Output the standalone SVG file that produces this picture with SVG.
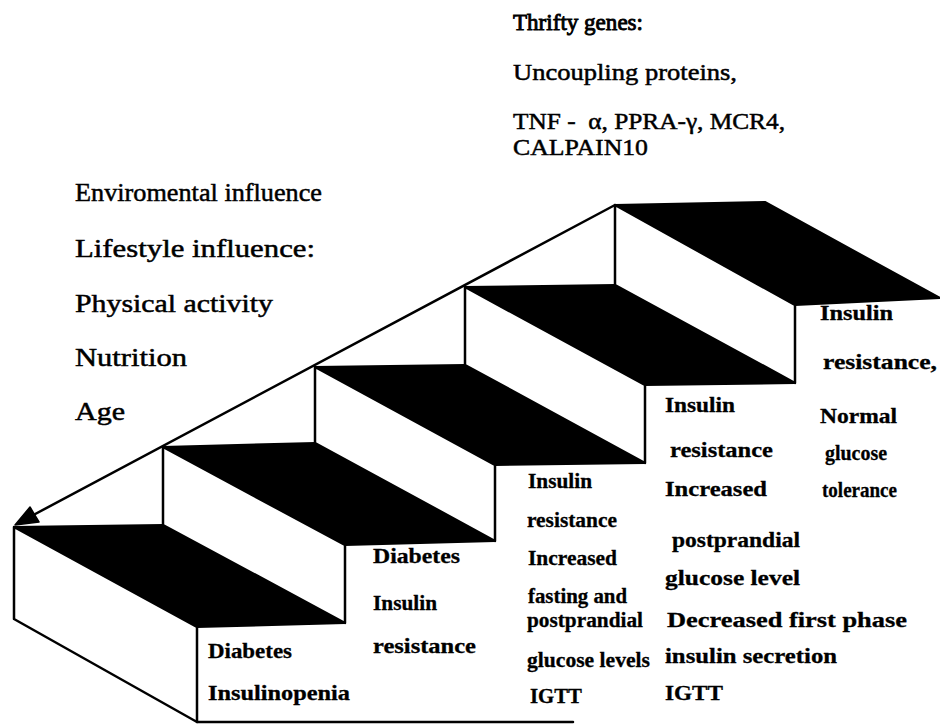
<svg xmlns="http://www.w3.org/2000/svg" width="940" height="726" viewBox="0 0 940 726">
<defs>
<style>
.bg{fill:#fff}
.tread{fill:#000;stroke:#000;stroke-width:2;stroke-linejoin:round}
.riser{fill:#fff;stroke:#000;stroke-width:2.5;stroke-linejoin:round}
.edge{fill:none;stroke:#000;stroke-width:2.5;stroke-linecap:round}
.side{font-family:"Liberation Serif","Times New Roman",serif;font-size:26px;fill:#000;stroke:#000;stroke-width:0.5}
.gene{font-family:"Liberation Serif","Times New Roman",serif;font-size:24px;fill:#000;stroke:#000;stroke-width:0.5}
.lab{font-family:"Liberation Serif","Times New Roman",serif;font-size:21px;font-weight:bold;fill:#000;stroke:#000;stroke-width:0.3}
.lab3{font-family:"Liberation Serif","Times New Roman",serif;font-size:20px;font-weight:bold;fill:#000;stroke:#000;stroke-width:0.3}
</style>
</defs>
<rect class="bg" x="0" y="0" width="940" height="726"/>

<g id="factors">
<text class="side" x="75" y="201" textLength="247" lengthAdjust="spacingAndGlyphs">Enviromental influence</text>
<text class="side" x="75" y="257" textLength="240" lengthAdjust="spacingAndGlyphs">Lifestyle influence:</text>
<text class="side" x="75" y="312" textLength="198" lengthAdjust="spacingAndGlyphs">Physical activity</text>
<text class="side" x="75" y="366" textLength="112" lengthAdjust="spacingAndGlyphs">Nutrition</text>
<text class="side" x="75" y="420" textLength="50" lengthAdjust="spacingAndGlyphs">Age</text>
</g>

<g id="genes">
<text class="gene" x="513" y="30" style="stroke-width:0.9" textLength="130" lengthAdjust="spacingAndGlyphs">Thrifty genes:</text>
<text class="gene" x="513" y="80" textLength="224" lengthAdjust="spacingAndGlyphs">Uncoupling proteins,</text>
<text class="gene" x="513" y="129" textLength="272" lengthAdjust="spacingAndGlyphs">TNF - &#160;α, PPRA-γ, MCR4,</text>
<text class="gene" x="513" y="155" textLength="135" lengthAdjust="spacingAndGlyphs">CALPAIN10</text>
</g>

<g id="step1">
<polygon class="tread" points="14,527 163,525 345,623 197,627"/>
<polygon class="riser" points="14,527 197,627 197,722 14,619"/>
<text class="lab" x="208" y="658" textLength="84" lengthAdjust="spacingAndGlyphs">Diabetes</text>
<text class="lab" x="208" y="700" textLength="142" lengthAdjust="spacingAndGlyphs">Insulinopenia</text>
</g>

<g id="step2">
<polygon class="tread" points="163,447 315,443 495,541 345,545"/>
<polygon class="riser" points="163,447 345,545 345,623 163,525"/>
<text class="lab" x="373" y="563" textLength="87" lengthAdjust="spacingAndGlyphs">Diabetes</text>
<text class="lab" x="373" y="610" textLength="64" lengthAdjust="spacingAndGlyphs">Insulin</text>
<text class="lab" x="373" y="653" textLength="103" lengthAdjust="spacingAndGlyphs">resistance</text>
</g>

<g id="step3">
<polygon class="tread" points="315,367 465,365 645,463 495,465"/>
<polygon class="riser" points="315,367 495,465 495,541 315,443"/>
<text class="lab3" x="528" y="488" textLength="64" lengthAdjust="spacingAndGlyphs">Insulin</text>
<text class="lab3" x="527" y="527" textLength="90" lengthAdjust="spacingAndGlyphs">resistance</text>
<text class="lab3" x="528" y="565" textLength="89" lengthAdjust="spacingAndGlyphs">Increased</text>
<text class="lab3" x="528" y="603" textLength="99" lengthAdjust="spacingAndGlyphs">fasting and</text>
<text class="lab3" x="527" y="627" textLength="116" lengthAdjust="spacingAndGlyphs">postprandial</text>
<text class="lab3" x="527" y="667" textLength="123" lengthAdjust="spacingAndGlyphs">glucose levels</text>
<text class="lab3" x="530" y="703" textLength="52" lengthAdjust="spacingAndGlyphs">IGTT</text>
</g>

<g id="step4">
<polygon class="tread" points="465,287 615,285 795,383 645,385"/>
<polygon class="riser" points="465,287 645,385 645,463 465,365"/>
<text class="lab" x="665" y="412" textLength="70" lengthAdjust="spacingAndGlyphs">Insulin</text>
<text class="lab" x="670" y="457" textLength="103" lengthAdjust="spacingAndGlyphs">resistance</text>
<text class="lab" x="665" y="496" textLength="102" lengthAdjust="spacingAndGlyphs">Increased</text>
<text class="lab" x="672" y="547" textLength="128" lengthAdjust="spacingAndGlyphs">postprandial</text>
<text class="lab" x="665" y="585" textLength="135" lengthAdjust="spacingAndGlyphs">glucose level</text>
<text class="lab" x="667" y="627" textLength="240" lengthAdjust="spacingAndGlyphs">Decreased first phase</text>
<text class="lab" x="665" y="663" textLength="172" lengthAdjust="spacingAndGlyphs">insulin secretion</text>
<text class="lab" x="665" y="700" textLength="58" lengthAdjust="spacingAndGlyphs">IGTT</text>
</g>

<g id="step5">
<polygon class="tread" points="615,205 765,202 940,298 795,305"/>
<polygon class="riser" points="615,205 795,305 795,383 615,285"/>
<text class="lab" x="820" y="320" textLength="73" lengthAdjust="spacingAndGlyphs">Insulin</text>
<text class="lab" x="823" y="369" textLength="114" lengthAdjust="spacingAndGlyphs">resistance,</text>
<text class="lab" x="820" y="423" textLength="77" lengthAdjust="spacingAndGlyphs">Normal</text>
<text class="lab" x="825" y="460" textLength="62" lengthAdjust="spacingAndGlyphs">glucose</text>
<text class="lab" x="822" y="497" textLength="75" lengthAdjust="spacingAndGlyphs">tolerance</text>
</g>

<g id="connectors">
<line class="edge" x1="615" y1="205" x2="24" y2="520" stroke-width="3"/>
<polygon points="15,525 30,507 39,522" fill="#000" stroke="#000" stroke-width="1.5" stroke-linejoin="round"/>
<line class="edge" x1="197" y1="722" x2="573" y2="722"/>
</g>
</svg>
